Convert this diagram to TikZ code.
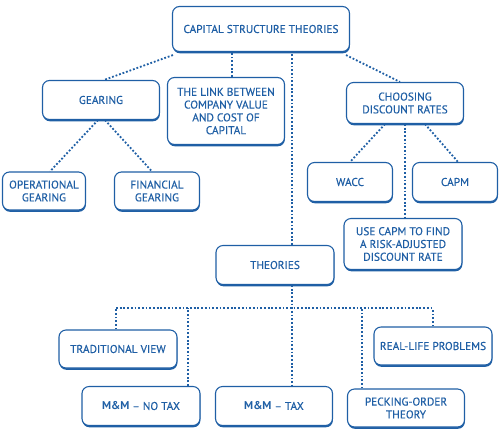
\documentclass[tikz,border=0pt]{standalone}
\usepackage{fontspec}
\setmainfont{PT Sans}[UprightFeatures={FakeBold=0.35}]
\usetikzlibrary{shadows}
\definecolor{csblue}{HTML}{1F5FA5}

\begin{document}
\begin{tikzpicture}[x=1pt, y=-1pt,
  box/.style={draw=csblue, line width=1.1pt, rounded corners=7pt, fill=white,
    text=csblue, align=center, font=\fontsize{11.3}{12.8}\selectfont,
    inner sep=2pt, minimum width=117pt, minimum height=39pt,
    drop shadow={shadow xshift=0.4pt, shadow yshift=-1.8pt, fill=csblue, opacity=1}},
  link/.style={draw=csblue, line width=1.8pt, dash pattern=on 1.8pt off 1.9pt}]
  \useasboundingbox (0,0) rectangle (500,440);
  % top level
  \node[box, minimum width=177pt, minimum height=45pt] (cst) at (261,29)
    {CAPITAL STRUCTURE THEORIES};
  \node[box] (gear) at (101,100) {GEARING};
  \node[box, minimum height=67pt] (link) at (226,111)
    {THE LINK BETWEEN\\COMPANY VALUE\\AND COST OF\\CAPITAL};
  \node[box, minimum height=41pt] (disc) at (405,103)
    {CHOOSING\\DISCOUNT RATES};
  % second level
  \node[box, minimum width=83pt, minimum height=38pt] (op) at (44,191)
    {OPERATIONAL\\GEARING};
  \node[box, minimum width=85pt, minimum height=38pt] (fin) at (157,191)
    {FINANCIAL\\GEARING};
  \node[box, minimum width=85pt] (wacc) at (350,182) {WACC};
  \node[box, minimum width=85pt] (capm) at (455,182) {CAPM};
  \node[box, minimum width=118pt, minimum height=51pt] (use) at (403,244)
    {USE CAPM TO FIND\\A RISK-ADJUSTED\\DISCOUNT RATE};
  \node[box, minimum width=118pt] (theo) at (275,265) {THEORIES};
  % theories
  \node[box, minimum width=118pt, minimum height=38pt] (trad) at (118,349)
    {TRADITIONAL VIEW};
  \node[box, minimum width=118pt] (mmno) at (141,406)
    {\textbf{M\&M} -- NO TAX};
  \node[box, minimum width=117pt] (mmtax) at (274,406)
    {\textbf{M\&M} -- TAX};
  \node[box, minimum width=118pt, minimum height=38pt] (real) at (433,346)
    {REAL-LIFE PROBLEMS};
  \node[box, minimum width=117pt, minimum height=38pt] (peck) at (406,408)
    {PECKING-ORDER\\THEORY};
  \coordinate (bus) at (292,308);

  % connectors
  \draw[link] ([xshift=1pt,yshift=-3pt]cst.south west) -- ([xshift=3pt]gear.north);
  \draw[link] ([xshift=6pt]link.north) -- ([xshift=6pt]link.north |- cst.south);
  \draw[link] ([xshift=17pt]theo.north) -- ([xshift=17pt]theo.north |- cst.south);
  \draw[link] ([xshift=-4pt,yshift=-3pt]cst.south east) -- ([xshift=-5pt]disc.north);
  \draw[link] ([xshift=-3pt]gear.south) -- ([xshift=6pt]op.north);
  \draw[link] ([xshift=4pt]gear.south) -- ([xshift=-5pt]fin.north);
  \draw[link] ([xshift=-20pt]disc.south) -- (wacc.north);
  \draw[link] ([xshift=20pt]disc.south) -- ([xshift=3pt]capm.north);
  \draw[link] (disc.south) -- (use.north -| disc.south);
  \draw[link] ([xshift=17pt]theo.south) -- ([xshift=17pt]theo.south |- mmtax.north);
  \draw[link] ([xshift=-2pt]trad.north |- bus) -- (real.north |- bus);
  \draw[link] ([xshift=-2pt]trad.north) -- ([xshift=-2pt]trad.north |- bus);
  \draw[link] ([xshift=47pt]mmno.north) -- ([xshift=47pt]mmno.north |- bus);
  \draw[link] ([xshift=-44pt]peck.north) -- ([xshift=-44pt]peck.north |- bus);
  \draw[link] (real.north) -- (real.north |- bus);
\end{tikzpicture}
\end{document}
